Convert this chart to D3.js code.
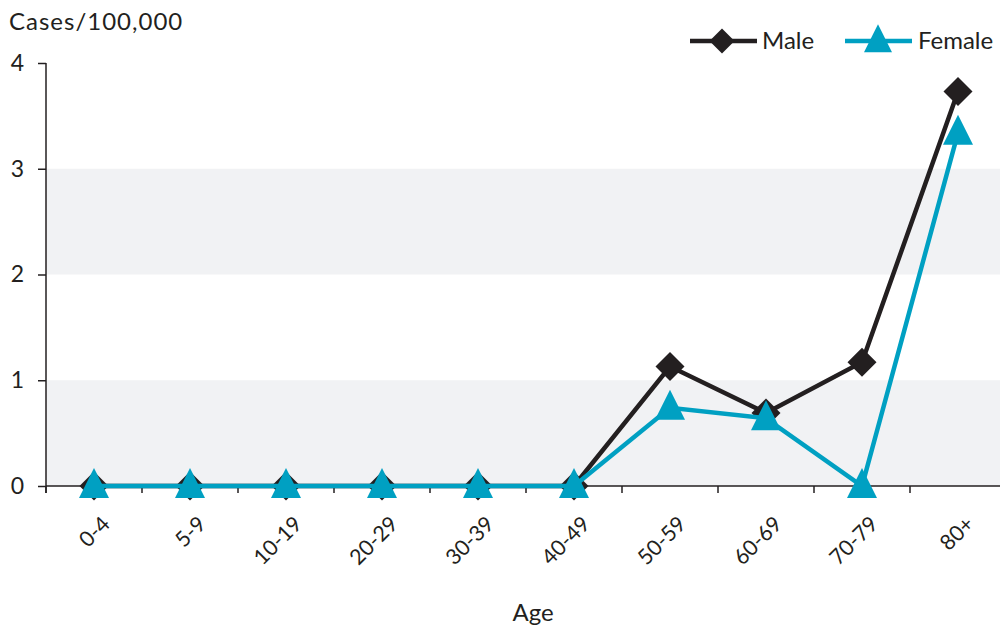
<!DOCTYPE html>
<html><head><meta charset="utf-8">
<script src="https://cdn.jsdelivr.net/npm/d3@7"></script>
<style>body{margin:0;background:#fff}svg{display:block}text{font-family:"Century Gothic","Lato","Open Sans",sans-serif;fill:#231f20}</style>
</head><body><svg id="c" width="1000" height="637"></svg>
<script>
const categories=["0-4","5-9","10-19","20-29","30-39","40-49","50-59","60-69","70-79","80+"];
const male=[0,0,0,0,0,0,1.13,0.69,1.17,3.73];
const female=[0,0,0,0,0,0,0.74,0.64,0,3.34];
const yTicks=[0,1,2,3,4];
const seriesNames=["Male","Female"];
const colors={Male:"#231f20",Female:"#00a0c2"};

const svg=d3.select("#c");
const L=46,R=1006,T=63,B=486;
const x=d3.scaleBand().domain(categories).range([L,R]);
const y=d3.scaleLinear().domain([0,4]).range([B,T]);

// bands
[[0,1],[2,3]].forEach(([a,b])=>{
  svg.append("rect").attr("x",L).attr("y",y(b)).attr("width",R-L).attr("height",y(a)-y(b)).attr("fill","#f1f2f4");
});

// axes
const ya=svg.append("g").attr("transform",`translate(${L},0)`).call(d3.axisLeft(y).tickValues(yTicks).tickSize(8).tickPadding(14).tickFormat(d3.format("d")));
ya.select(".domain").remove();
ya.append("line").attr("x1",0).attr("x2",0).attr("y1",T).attr("y2",B+7).attr("stroke","#231f20").attr("stroke-width",1.5);
ya.selectAll(".tick line").attr("stroke","#231f20").attr("stroke-width",1.5);
ya.selectAll(".tick text").attr("font-size",23).attr("fill","#231f20").style("font-family",'"Century Gothic","Lato","Open Sans",sans-serif');

const xg=svg.append("g");
xg.append("line").attr("x1",L).attr("x2",1000).attr("y1",B).attr("y2",B).attr("stroke","#231f20").attr("stroke-width",1.5);
categories.forEach((c,i)=>{
  const bx=x(c);
  xg.append("line").attr("x1",bx).attr("x2",bx).attr("y1",B).attr("y2",B+7).attr("stroke","#231f20").attr("stroke-width",1.5);
});
categories.forEach(c=>{
  const cx=x(c)+x.bandwidth()/2;
  xg.append("text").attr("transform",`translate(${cx+12},${B+34}) rotate(-45)`).attr("text-anchor","end").attr("dy","0.35em").attr("font-size",21.5).text(c);
});

// titles
svg.append("text").attr("x",9).attr("y",30).attr("font-size",24).attr("letter-spacing",1).text("Cases/100,000");
svg.append("text").attr("x",533).attr("y",621).attr("text-anchor","middle").attr("font-size",24).text("Age");

const cx=c=>x(c)+x.bandwidth()/2;
function diamondPath(s){return `M0,${-s}L${s},0L0,${s}L${-s},0Z`;}
function triPath(w,h){return `M0,${-h*0.6}L${w/2},${h*0.4}L${-w/2},${h*0.4}Z`;}
function series(vals,name,pathStr){
  const line=d3.line().x((d,i)=>cx(categories[i])).y(d=>y(d));
  svg.append("path").datum(vals).attr("d",line).attr("fill","none").attr("stroke",colors[name]).attr("stroke-width",4.5);
  svg.selectAll(null).data(vals).enter().append("path").attr("d",pathStr)
    .attr("transform",(d,i)=>`translate(${cx(categories[i])},${y(d)})`).attr("fill",colors[name]);
}
series(male,"Male",diamondPath(14.5));
series(female,"Female",triPath(30,30));

// legend
const lg=svg.append("g");
lg.append("line").attr("x1",690).attr("x2",757).attr("y1",41).attr("y2",41).attr("stroke",colors.Male).attr("stroke-width",4.5);
lg.append("path").attr("d",diamondPath(12.5)).attr("transform","translate(722,41)").attr("fill",colors.Male);
lg.append("text").attr("x",762).attr("y",49).attr("font-size",24).text(seriesNames[0]);
lg.append("line").attr("x1",845).attr("x2",912).attr("y1",41).attr("y2",41).attr("stroke",colors.Female).attr("stroke-width",4.5);
lg.append("path").attr("d",triPath(28,28)).attr("transform","translate(878,41)").attr("fill",colors.Female);
lg.append("text").attr("x",918).attr("y",49).attr("font-size",24).text(seriesNames[1]);
</script></body></html>
